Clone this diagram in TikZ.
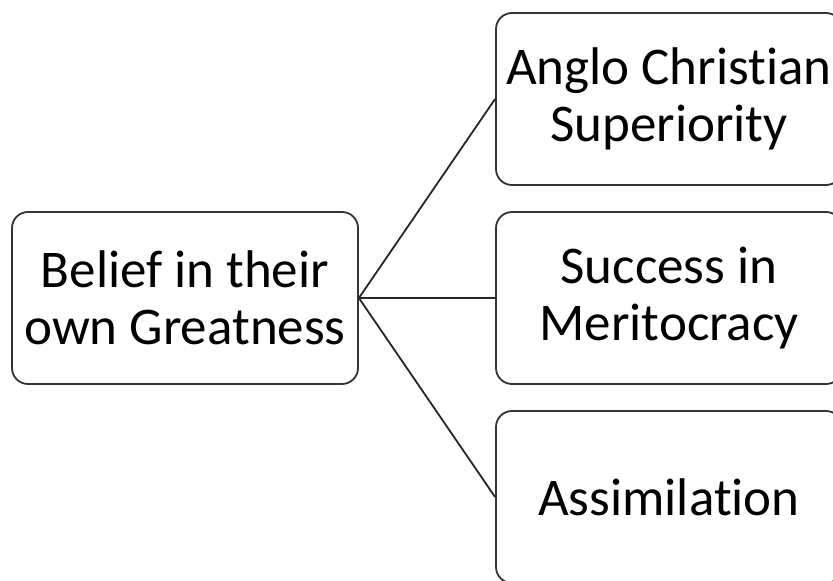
\documentclass[tikz,border=0pt]{standalone}
\usepackage{fontspec}
\setmainfont[Ligatures=NoCommon]{Carlito}
\usepackage{tikz}
\usetikzlibrary{positioning}

\begin{document}
\begin{tikzpicture}[x=1pt,y=-1pt,
  cbox/.style={draw=black!80,line width=1.8pt,rounded corners=16pt,
    minimum width=346pt,minimum height=172pt,align=center,inner sep=0pt,
    font=\fontsize{53}{57}\selectfont},
  link/.style={draw=black!85,line width=1.8pt}]
  \clip (0,0) rectangle (833,581);
  \node[cbox] (belief) at (185,298) {Belief in their\\own Greatness};
  \node[cbox] (anglo) at (669,99) {Anglo Christian\\Superiority};
  \node[cbox] (success) at (669,298) {Success in\\Meritocracy};
  \node[cbox] (assim) at (669,497) {Assimilation};
  \draw[link] (belief.east)--(anglo.west);
  \draw[link] (belief.east)--(success.west);
  \draw[link] (belief.east)--(assim.west);
\end{tikzpicture}
\end{document}
